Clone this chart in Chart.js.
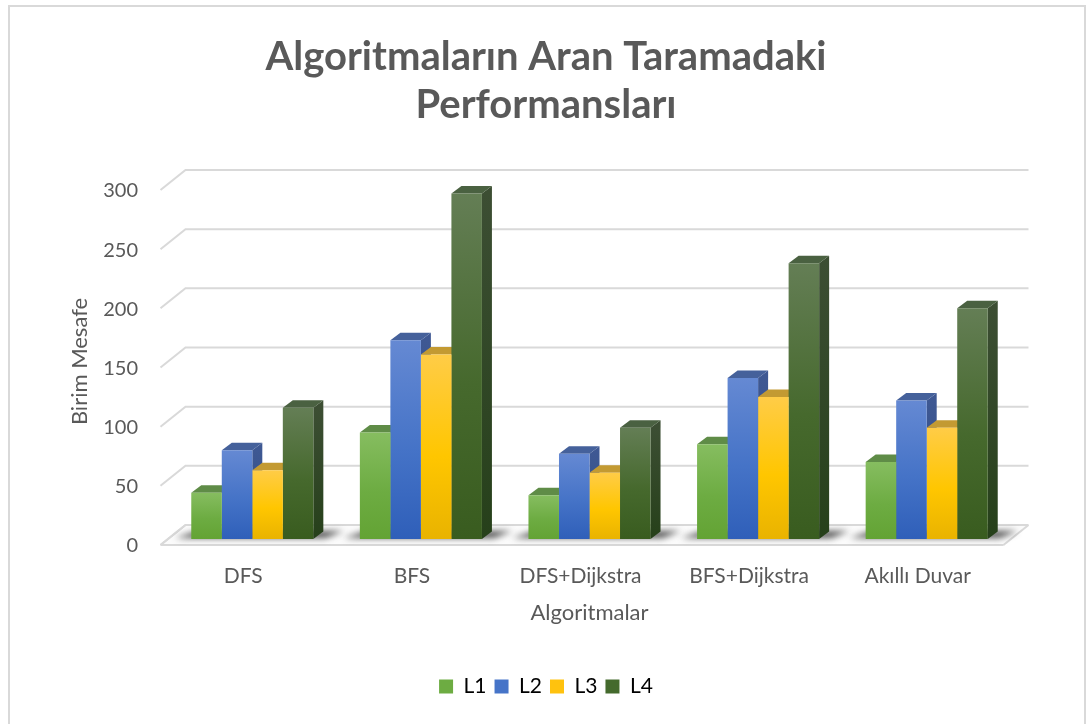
<!DOCTYPE html>
<html lang="tr">
<head>
<meta charset="utf-8">
<title>Algoritmaların Aran Taramadaki Performansları</title>
<script src="https://cdn.jsdelivr.net/npm/chart.js@4.4.1/dist/chart.umd.min.js"></script>
<style>
  html, body { margin: 0; padding: 0; background: #fff; }
  #wrap { position: relative; width: 1092px; height: 724px; }
</style>
</head>
<body>
<div id="wrap"><canvas id="chart"></canvas></div>
<script>
// Data
const categories = ['DFS', 'BFS', 'DFS+Dijkstra', 'BFS+Dijkstra', 'Akıllı Duvar'];
const seriesNames = ['L1', 'L2', 'L3', 'L4'];
const l1Values = [39, 90, 37, 80, 65];
const l2Values = [75, 168, 72, 136, 117];
const l3Values = [58, 156, 56, 120, 94];
const l4Values = [111, 292, 94, 233, 195];
const yTicks = [0, 50, 100, 150, 200, 250, 300];

// Face colours for each series: front gradient (top, middle, bottom), top face, side face
const FACES = [
  { front: ['#86bd60', '#6dac42', '#63a334'], top: '#5f8c47', side: ['#557f3c', '#44702c'], legend: '#6dac42' },
  { front: ['#6589d3', '#4573c7', '#2f5fb9'], top: '#45619b', side: ['#3e5893', '#2f4b84'], legend: '#4674c8' },
  { front: ['#ffcc47', '#ffc600', '#e9b300'], top: '#c39a32', side: ['#c29326', '#a9801c'], legend: '#ffc20e' },
  { front: ['#647e55', '#46692d', '#395c1f'], top: '#4a6141', side: ['#3c4e33', '#26401a'], legend: '#446a2d' }
];

const TEXT = '#595959';
const GRID = '#d9d9d9';
const FONT = "Lato, 'Open Sans', sans-serif";

// 3D offsets, in pixels
const BAR_DX = 10, BAR_DY = 7.5;       // depth of each bar
const FRONT = { x: -7.5, y: 6 };       // bar plane -> front edge of the floor
const BACK = { x: 17.5, y: -14 };      // bar plane -> back wall

function frontGradient(ctx, idx) {
  const chart = ctx.chart;
  const ys = chart.scales && chart.scales.y;
  const stops = FACES[idx].front;
  if (!ys || ctx.type !== 'data') return stops[1];
  const top = ys.getPixelForValue(ctx.raw);
  const base = ys.getPixelForValue(0);
  const g = chart.ctx.createLinearGradient(0, top, 0, base);
  g.addColorStop(0, stops[0]);
  g.addColorStop(0.55, stops[1]);
  g.addColorStop(1, stops[2]);
  return g;
}

function poly(ctx, pts, fill) {
  ctx.beginPath();
  ctx.moveTo(pts[0][0], pts[0][1]);
  for (let i = 1; i < pts.length; i++) ctx.lineTo(pts[i][0], pts[i][1]);
  ctx.closePath();
  ctx.fillStyle = fill;
  ctx.fill();
}

const depthPlugin = {
  id: 'depth',
  beforeDraw(chart) {
    const ctx = chart.ctx;
    ctx.save();
    ctx.fillStyle = '#fff';
    ctx.fillRect(0, 0, chart.width, chart.height);
    ctx.strokeStyle = '#d9d9d9';
    ctx.lineWidth = 2;
    ctx.strokeRect(9, 6, 1076, chart.height + 10);
    ctx.restore();
  },
  beforeDatasetsDraw(chart) {
    const { ctx, chartArea: a } = chart;
    const ys = chart.scales.y;
    const fl = a.left + FRONT.x, fr = a.right + FRONT.x;
    const bl = a.left + BACK.x, br = a.right + BACK.x;
    ctx.save();

    // floor
    const y0 = ys.getPixelForValue(0);
    poly(ctx, [[fl, y0 + FRONT.y], [fr, y0 + FRONT.y], [br, y0 + BACK.y], [bl, y0 + BACK.y]], '#fbfbfb');
    ctx.strokeStyle = GRID;
    ctx.lineWidth = 2;
    ctx.beginPath();
    ctx.moveTo(fl, y0 + FRONT.y); ctx.lineTo(fr, y0 + FRONT.y);
    ctx.moveTo(fl, y0 + FRONT.y); ctx.lineTo(bl, y0 + BACK.y);
    ctx.moveTo(fr, y0 + FRONT.y); ctx.lineTo(br, y0 + BACK.y);
    ctx.stroke();

    // back and side wall gridlines
    ctx.beginPath();
    yTicks.forEach(v => {
      const p = ys.getPixelForValue(v);
      ctx.moveTo(fl, p + FRONT.y);
      ctx.lineTo(bl, p + BACK.y);
      ctx.lineTo(br, p + BACK.y);
    });
    ctx.stroke();

    // soft shadow cast on the floor by each group
    const metas = chart.data.datasets.map((d, i) => chart.getDatasetMeta(i));
    ctx.save();
    ctx.filter = 'blur(3px)';
    ctx.fillStyle = 'rgba(40,40,40,0.8)';
    categories.forEach((c, j) => {
      const first = metas[0].data[j], last = metas[metas.length - 1].data[j];
      const l = first.x - first.width / 2, r = last.x + last.width / 2;
      ctx.beginPath();
      ctx.moveTo(l - 16, y0 - 1);
      ctx.lineTo(l + 6, y0 - 8);
      ctx.lineTo(r + BAR_DX + 20, y0 - 8);
      ctx.lineTo(r + 12, y0 - 1);
      ctx.closePath();
      ctx.fill();
    });
    ctx.restore();

    // side and top faces, left to right so nearer bars cover them
    categories.forEach((c, j) => {
      metas.forEach((m, i) => {
        const bar = m.data[j];
        const l = bar.x - bar.width / 2, r = bar.x + bar.width / 2;
        const t = bar.y, b = bar.base;
        const sg = ctx.createLinearGradient(0, t, 0, b);
        sg.addColorStop(0, FACES[i].side[0]);
        sg.addColorStop(1, FACES[i].side[1]);
        poly(ctx, [[r, t], [r + BAR_DX, t - BAR_DY], [r + BAR_DX, b - BAR_DY], [r, b]], sg);
        poly(ctx, [[l, t], [l + BAR_DX, t - BAR_DY], [r + BAR_DX, t - BAR_DY], [r, t]], FACES[i].top);
      });
    });
    ctx.restore();
  }
};

const seriesValues = [l1Values, l2Values, l3Values, l4Values];

new Chart(document.getElementById('chart'), {
  type: 'bar',
  data: {
    labels: categories,
    datasets: seriesNames.map((name, i) => ({
      label: name,
      data: seriesValues[i],
      backgroundColor: ctx => frontGradient(ctx, i),
      borderWidth: 0,
      categoryPercentage: 0.724,
      barPercentage: 1.0
    }))
  },
  options: {
    responsive: true,
    maintainAspectRatio: false,
    animation: false,
    layout: { padding: { left: 69, right: 69, top: 0, bottom: 17 } },
    plugins: {
      title: {
        display: true,
        text: ['Algoritmaların Aran Taramadaki', 'Performansları'],
        color: TEXT,
        font: { family: FONT, size: 40, weight: 'bold', lineHeight: 1.2 },
        padding: { top: 33, bottom: 55 }
      },
      legend: {
        position: 'bottom',
        labels: {
          color: TEXT,
          font: { family: FONT, size: 21 },
          boxWidth: 14,
          boxHeight: 14,
          padding: 8,
          generateLabels: chart => chart.data.datasets.map((d, i) => ({
            text: d.label,
            fillStyle: FACES[i].legend,
            strokeStyle: FACES[i].legend,
            lineWidth: 0,
            hidden: false,
            datasetIndex: i
          }))
        }
      },
      tooltip: { enabled: false }
    },
    scales: {
      x: {
        grid: { display: false, drawTicks: false },
        border: { display: false },
        ticks: { color: TEXT, font: { family: FONT, size: 21 }, padding: 25, labelOffset: -9, maxRotation: 0 },
        title: {
          display: true,
          text: 'Algoritmalar',
          color: TEXT,
          font: { family: FONT, size: 22 },
          padding: { top: 10, bottom: 42 }
        },
        afterFit: scale => { scale.height = 129; }
      },
      y: {
        min: 0,
        max: 300,
        grid: { display: false, drawTicks: false },
        border: { display: false },
        ticks: { stepSize: 50, color: TEXT, font: { family: FONT, size: 20 }, padding: 30, labelOffset: 7 },
        title: {
          display: true,
          text: 'Birim Mesafe',
          color: TEXT,
          font: { family: FONT, size: 22, lineHeight: 1 },
          padding: { top: 0, bottom: 0 }
        },
        afterFit: scale => { scale.width = 99; }
      },
      // empty strip on the right that leaves room for the wall depth
      depthRoom: {
        type: 'linear',
        position: 'right',
        grid: { display: false, drawTicks: false },
        border: { display: false },
        ticks: { display: false },
        afterFit: scale => { scale.width = 12; }
      }
    }
  },
  plugins: [depthPlugin]
});
</script>
</body>
</html>
